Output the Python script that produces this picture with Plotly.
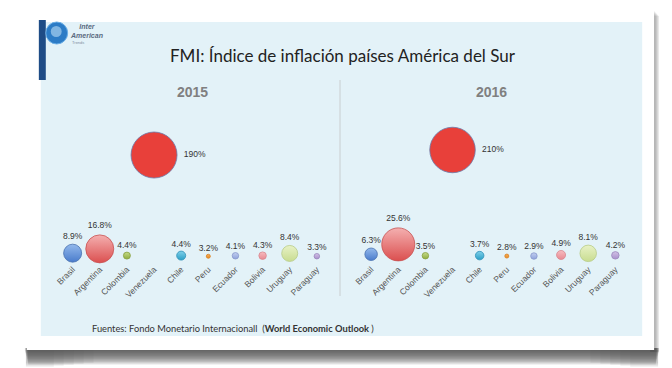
import plotly.graph_objects as go

# ---------------- data ----------------
countries = ["Brasil", "Argentina", "Colombia", "Venezuela", "Chile",
             "Peru", "Ecuador", "Bolivia", "Uruguay", "Paraguay"]
inflation_2015 = [8.9, 16.8, 4.4, 190, 4.4, 3.2, 4.1, 4.3, 8.4, 3.3]
inflation_2016 = [6.3, 25.6, 3.5, 210, 3.7, 2.8, 2.9, 4.9, 8.1, 4.2]
# bubble-size series of the original bubble chart
bubble_size_2015 = [18, 28, 7, 46, 9, 4, 6.5, 7.5, 16, 5.5]
bubble_size_2016 = [12.5, 33, 6.5, 45.5, 8.5, 4, 6.5, 9, 16.5, 7.5]
years = ["2015", "2016"]

# ---------------- styles ----------------
OFF = 8                     # browser default body margin
W, H = 672 - OFF, 368 - OFF
top_cols = ["#93b9ec", "#f4b0b0", "#c6dc8a", "#e8403a", "#7fd0ea",
            "#f6b060", "#c2cff0", "#f7bcc0", "#e8f2c6", "#d3c2e6"]
bot_cols = ["#4a7ccc", "#db4f4f", "#8fac3e", "#e8403a", "#2a9fc6",
            "#e88a20", "#8ea2dc", "#e88a92", "#c8dc90", "#a890cc"]
edge_cols = ["#4a72b0", "#c85050", "#86a040", "#6a78a8", "#3090b8",
             "#d88020", "#8898cc", "#d88890", "#b8cc88", "#9a88bc"]


def px(y):
    return 1 - (y - OFF) / H


def pxx(x):
    return (x - OFF) / W


fig = go.Figure()

ydom = [px(262), px(70)]
step = 27.3
panels = [
    dict(x0=69.0, vals=inflation_2015, sizes=bubble_size_2015, zero=258.0, k=0.542),
    dict(x0=369.3, vals=inflation_2016, sizes=bubble_size_2016, zero=257.5, k=0.512),
]

for i, p in enumerate(panels):
    xa = "x" if i == 0 else "x2"
    ya = "y" if i == 0 else "y2"
    vmax = max(p["vals"])
    positions = ["middle right" if v == vmax else "top center" for v in p["vals"]]
    fig.add_trace(go.Scatter(
        x=countries, y=p["vals"], mode="markers+text",
        text=[f"{v:g}%" for v in p["vals"]],
        textposition=positions,
        textfont=dict(family="Liberation Sans, Arial", size=8.5, color="#333333"),
        marker=dict(size=p["sizes"], sizemode="diameter", color=top_cols,
                    gradient=dict(type="vertical", color=bot_cols),
                    line=dict(color=edge_cols, width=0.8), opacity=1),
        xaxis=xa, yaxis=ya, showlegend=False, hoverinfo="skip", cliponaxis=False,
    ))
    left = p["x0"] - step / 2
    right = left + step * len(countries)
    lo = -(262 - p["zero"]) / p["k"]
    hi = (p["zero"] - 70) / p["k"]
    axkey = "xaxis" if i == 0 else "xaxis2"
    aykey = "yaxis" if i == 0 else "yaxis2"
    fig.update_layout(**{
        axkey: dict(domain=[pxx(left), pxx(right)], anchor=ya,
                    range=[-0.5, len(countries) - 0.5], showgrid=False,
                    zeroline=False, showline=False, ticks="",
                    tickangle=-45, tickfont=dict(family="Liberation Sans, Arial",
                                                 size=8.5, color="#555555"),
                    fixedrange=True),
        aykey: dict(domain=ydom, anchor=xa, range=[lo, hi], visible=False,
                    fixedrange=True),
    })

shapes = []
# card shadow (right strip + bottom band, deeper at the curled ends)
for j in range(6):
    shapes.append(dict(type="rect", xref="paper", yref="paper",
                       x0=pxx(650), x1=pxx(654.5 + j * 0.9), y0=px(352), y1=px(11 + j),
                       fillcolor="rgba(110,110,110,0.13)", line_width=0, layer="below"))
for j in range(12):
    shapes.append(dict(type="rect", xref="paper", yref="paper",
                       x0=pxx(21 + j * 0.3), x1=pxx(659 - j * 0.3),
                       y0=px(350 + 1.2 * (j + 1)), y1=px(348),
                       fillcolor="rgba(80,80,80,0.14)", line_width=0, layer="below"))
for j in range(5):
    shapes.append(dict(type="rect", xref="paper", yref="paper",
                       x0=pxx(22), x1=pxx(90 - 10 * j),
                       y0=px(362 + 1.0 * (j + 1)), y1=px(350),
                       fillcolor="rgba(80,80,80,0.07)", line_width=0, layer="below"))
    shapes.append(dict(type="rect", xref="paper", yref="paper",
                       x0=pxx(590 + 10 * j), x1=pxx(658),
                       y0=px(362 + 1.0 * (j + 1)), y1=px(350),
                       fillcolor="rgba(80,80,80,0.07)", line_width=0, layer="below"))
# white card
shapes.append(dict(type="rect", xref="paper", yref="paper",
                   x0=pxx(23), x1=pxx(654), y0=px(350), y1=px(10),
                   fillcolor="white", line_width=0, layer="below"))
# light-blue panel
shapes.append(dict(type="rect", xref="paper", yref="paper",
                   x0=pxx(37), x1=pxx(642), y0=px(336), y1=px(22),
                   fillcolor="#e3f2f8", line_width=0, layer="below"))
# dark blue bar of the logo
shapes.append(dict(type="rect", xref="paper", yref="paper",
                   x0=pxx(35), x1=pxx(42), y0=px(80), y1=px(20),
                   fillcolor="#1e4c86", line_width=0, layer="below"))
# globe
shapes.append(dict(type="circle", xref="paper", yref="paper",
                   x0=pxx(42), x1=pxx(64), y0=px(44), y1=px(22),
                   fillcolor="#2c7cc6", line=dict(color="#6aaee6", width=1), layer="below"))
shapes.append(dict(type="circle", xref="paper", yref="paper",
                   x0=pxx(47), x1=pxx(58), y0=px(37), y1=px(26),
                   fillcolor="rgba(200,230,250,0.55)", line_width=0, layer="below"))
# divider
shapes.append(dict(type="line", xref="paper", yref="paper",
                   x0=pxx(338), x1=pxx(338), y0=px(296), y1=px(80),
                   line=dict(color="#d2dadd", width=1.5), layer="below"))

annotations = [
    dict(text="FMI: Índice de inflación países América del Sur", x=pxx(341), y=px(56),
         font=dict(family="Lato, Open Sans", size=17, color="#222222")),
    dict(text="<b>" + years[0] + "</b>", x=pxx(190), y=px(92),
         font=dict(family="Liberation Sans, Arial", size=14, color="#808080")),
    dict(text="<b>" + years[1] + "</b>", x=pxx(490), y=px(92),
         font=dict(family="Liberation Sans, Arial", size=14, color="#808080")),
    dict(text="Fuentes: Fondo Monetario Internacionall  (<b>World Economic Outlook </b>)",
         x=pxx(86), y=px(328), xanchor="left",
         font=dict(family="Lato, Open Sans", size=9.3, color="#333333")),
    dict(text="<b><i>Inter<br>American</i></b>", x=pxx(64), y=px(31), xanchor="left",
         font=dict(family="Liberation Sans, Arial", size=7, color="#5a6a80")),
    dict(text="Trends", x=pxx(66), y=px(42), xanchor="left",
         font=dict(family="Liberation Sans, Arial", size=4, color="#8090a0")),
]
for a in annotations:
    a.update(xref="paper", yref="paper", showarrow=False)
    a.setdefault("xanchor", "center")
    a.setdefault("yanchor", "middle")

fig.update_layout(
    width=W, height=H, margin=dict(l=0, r=0, t=0, b=0),
    paper_bgcolor="white", plot_bgcolor="rgba(0,0,0,0)",
    shapes=shapes, annotations=annotations,
)

fig.write_html("out.html")
